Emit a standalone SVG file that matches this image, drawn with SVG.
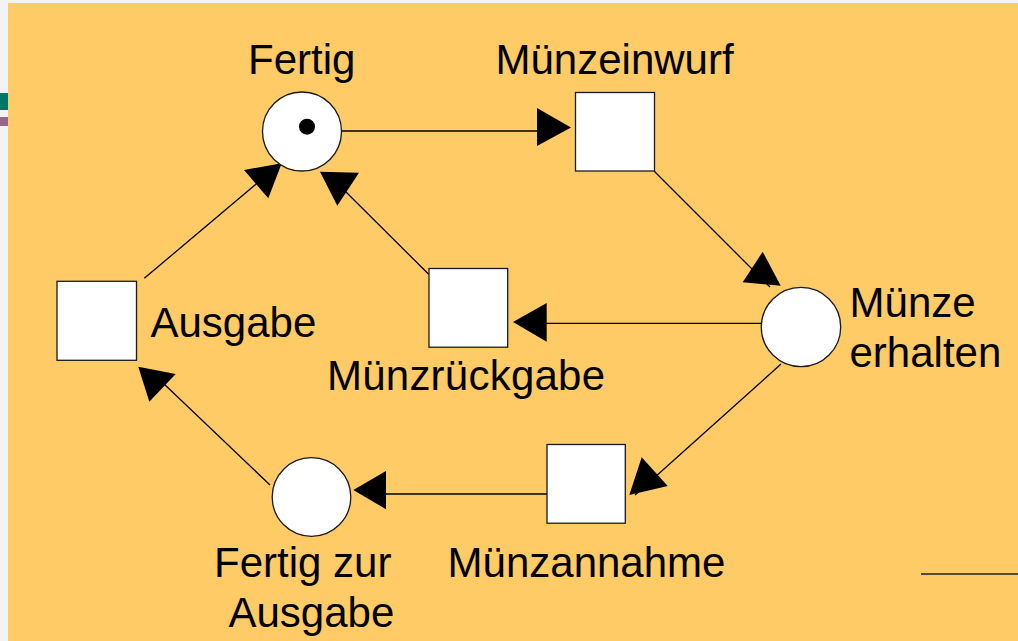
<svg xmlns="http://www.w3.org/2000/svg" width="1018" height="641" viewBox="0 0 1018 641">
<style>
.bg{fill:#f3f3f3}
.panel{fill:#FECB66}
.place{fill:#ffffff;stroke:#1a1a1a;stroke-width:1.3}
.trans{fill:#ffffff;stroke:#1a1a1a;stroke-width:1.3}
.edge{fill:none;stroke:#000000;stroke-width:1.3}
.head{fill:#000000;stroke:none}
.lbl{font-family:"Liberation Sans",Arial,sans-serif;font-size:42px;fill:#000000}
</style>
<rect class="bg" x="0" y="0" width="1018" height="641"/>
<rect class="panel" x="8" y="3" width="1010" height="638"/>
<rect x="0" y="93" width="8" height="17" fill="#007766"/>
<rect x="0" y="117" width="8" height="9" fill="#996688"/>
<line x1="921" y1="574" x2="1018" y2="574" stroke="#222222" stroke-width="1.5"/>

<g id="connectors">
  <line class="edge" x1="342" y1="131" x2="540" y2="131"/>
  <polygon class="head" points="537,108 571,127.5 537,146"/>
  <line class="edge" x1="654" y1="171" x2="770" y2="287"/>
  <polygon class="head" points="762.7,251.7 780.7,285.7 742.7,282.3"/>
  <line class="edge" x1="761" y1="323.3" x2="545" y2="323.3"/>
  <polygon class="head" points="513,322 546.7,303 546.7,341.7"/>
  <line class="edge" x1="428.7" y1="274.3" x2="343" y2="189"/>
  <polygon class="head" points="320,171.7 359,172.7 337.3,205.7"/>
  <line class="edge" x1="144.3" y1="278.3" x2="258" y2="182.5"/>
  <polygon class="head" points="244,170 281.7,163.3 268.3,198.3"/>
  <line class="edge" x1="270" y1="485" x2="163" y2="383"/>
  <polygon class="head" points="138.3,366.7 175.7,374 149.3,401.7"/>
  <line class="edge" x1="547" y1="494" x2="385" y2="494"/>
  <polygon class="head" points="353.3,490 386,471 386,509.3"/>
  <line class="edge" x1="781" y1="364" x2="635" y2="495"/>
  <polygon class="head" points="641.7,457.3 667.7,486 629.3,495"/>
</g>

<g id="fertig">
  <circle class="place" cx="302" cy="131.5" r="39.5"/>
  <circle cx="307" cy="126.7" r="8" fill="#000000"/>
  <text class="lbl" x="248" y="74">Fertig</text>
</g>
<g id="muenzeinwurf">
  <rect class="trans" x="575.5" y="92.5" width="79" height="78.5"/>
  <text class="lbl" x="495.5" y="74">Münzeinwurf</text>
</g>
<g id="muenze-erhalten">
  <circle class="place" cx="801" cy="327" r="39.7"/>
  <text class="lbl" x="849.6" y="316.7">Münze</text>
  <text class="lbl" x="849.5" y="366.7">erhalten</text>
</g>
<g id="muenzrueckgabe">
  <rect class="trans" x="429" y="268.5" width="78.7" height="78.7"/>
  <text class="lbl" x="327" y="390" textLength="278">Münzrückgabe</text>
</g>
<g id="ausgabe">
  <rect class="trans" x="57" y="281.3" width="79.5" height="79"/>
  <text class="lbl" x="150.5" y="336.7">Ausgabe</text>
</g>
<g id="fertig-zur-ausgabe">
  <circle class="place" cx="311.5" cy="497" r="39.3"/>
  <text class="lbl" x="214" y="576.5">Fertig zur</text>
  <text class="lbl" x="228.5" y="627">Ausgabe</text>
</g>
<g id="muenzannahme">
  <rect class="trans" x="547" y="444.5" width="78.3" height="78.7"/>
  <text class="lbl" x="447.6" y="576.5">Münzannahme</text>
</g>
</svg>
